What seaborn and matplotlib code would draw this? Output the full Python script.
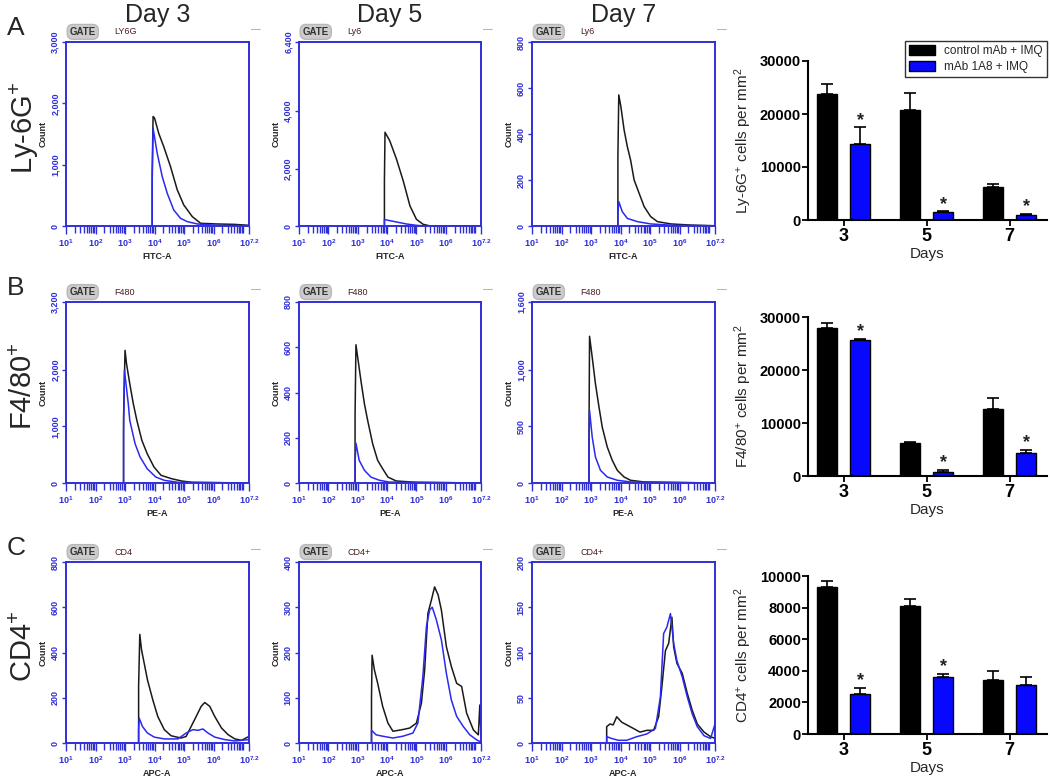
import numpy as np
import pandas as pd
import matplotlib.pyplot as plt
import seaborn as sns

# ---------------- flow histograms: x = log10 intensity, y = count ----------------
# row A  (Ly-6G, FITC-A)
ly6g_d3_ctrl_x = [3.92, 3.92, 3.95, 4.00, 4.14, 4.31, 4.54, 4.77, 4.99, 5.28, 5.56, 6.12, 6.69, 7.20]
ly6g_d3_ctrl_y = [0, 860, 1785, 1760, 1513, 1296, 969, 588, 343, 152, 44, 33, 27, 11]
ly6g_d3_trt_x = [3.92, 3.92, 3.95, 4.09, 4.26, 4.43, 4.65, 4.88, 5.11, 5.45, 6.12, 7.20]
ly6g_d3_trt_y = [0, 700, 1595, 1187, 806, 533, 261, 125, 71, 33, 11, 5]
ly6g_d5_ctrl_x = [3.91, 3.91, 3.93, 4.09, 4.32, 4.55, 4.78, 5.00, 5.23, 5.46, 7.20]
ly6g_d5_ctrl_y = [0, 1600, 3260, 2968, 2328, 1571, 698, 233, 58, 5, 0]
ly6g_d5_trt_x = [3.91, 3.91, 3.98, 4.32, 4.66, 5.00, 5.23, 7.20]
ly6g_d5_trt_y = [0, 230, 210, 140, 70, 23, 5, 0]
ly6g_d7_ctrl_x = [3.91, 3.91, 3.94, 4.01, 4.12, 4.23, 4.34, 4.46, 4.63, 4.80, 5.02, 5.25, 5.70, 6.39, 7.20]
ly6g_d7_ctrl_y = [0, 300, 570, 520, 418, 345, 287, 200, 142, 84, 41, 19, 9, 4, 1]
ly6g_d7_trt_x = [3.91, 3.91, 3.94, 4.06, 4.23, 4.57, 5.02, 5.80, 7.20]
ly6g_d7_trt_y = [0, 50, 106, 62, 33, 19, 9, 3, 1]

# row B  (F4/80, PE-A)
f480_d3_ctrl_x = [2.95, 2.95, 3.00, 3.05, 3.16, 3.28, 3.40, 3.57, 3.75, 3.98, 4.22, 4.57, 4.92, 5.27, 7.20]
f480_d3_ctrl_y = [0, 1150, 2345, 2110, 1756, 1402, 1108, 754, 519, 283, 136, 77, 35, 12, 0]
f480_d3_trt_x = [2.95, 2.95, 2.98, 3.11, 3.16, 3.34, 3.51, 3.75, 4.04, 4.33, 4.80, 7.20]
f480_d3_trt_y = [0, 900, 1992, 1402, 1108, 695, 460, 253, 106, 47, 12, 0]
f480_d5_ctrl_x = [2.91, 2.91, 2.94, 3.00, 3.11, 3.23, 3.34, 3.51, 3.68, 3.85, 4.03, 4.31, 5.00, 7.20]
f480_d5_ctrl_y = [0, 300, 611, 555, 452, 349, 276, 173, 100, 63, 26, 9, 3, 0]
f480_d5_trt_x = [2.91, 2.91, 2.94, 3.05, 3.23, 3.45, 3.74, 4.08, 7.20]
f480_d5_trt_y = [0, 90, 176, 100, 56, 26, 12, 4, 0]
f480_d7_ctrl_x = [2.93, 2.93, 2.95, 3.04, 3.15, 3.27, 3.38, 3.55, 3.72, 3.89, 4.12, 4.34, 4.80, 7.20]
f480_d7_ctrl_y = [0, 400, 1297, 1112, 876, 671, 494, 318, 200, 112, 53, 24, 9, 0]
f480_d7_trt_x = [2.93, 2.93, 2.95, 3.04, 3.15, 3.32, 3.55, 3.89, 4.34, 7.20]
f480_d7_trt_y = [0, 300, 641, 406, 229, 112, 53, 24, 9, 0]

# row C  (CD4, APC-A)
cd4_d3_ctrl_x = [3.46, 3.46, 3.50, 3.56, 3.65, 3.76, 3.94, 4.11, 4.33, 4.56, 4.90, 5.07, 5.24, 5.41,
                 5.58, 5.70, 5.87, 6.04, 6.27, 6.49, 6.72, 6.95, 7.20]
cd4_d3_ctrl_y = [0, 250, 480, 411, 352, 279, 191, 117, 59, 32, 22, 29, 73, 117,
                 162, 179, 162, 117, 66, 37, 18, 12, 29]
cd4_d3_trt_x = [3.46, 3.46, 3.48, 3.59, 3.76, 3.99, 4.33, 4.79, 5.07, 5.30, 5.47, 5.64, 5.81, 6.04,
                6.38, 6.72, 7.20]
cd4_d3_trt_y = [0, 60, 110, 73, 44, 26, 18, 18, 44, 59, 56, 62, 44, 26, 15, 9, 15]
cd4_d5_ctrl_x = [3.47, 3.47, 3.49, 3.57, 3.68, 3.85, 4.03, 4.20, 4.48, 4.77, 5.00, 5.17, 5.28, 5.39,
                 5.51, 5.62, 5.74, 5.85, 6.02, 6.19, 6.37, 6.54, 6.71, 6.94, 7.11, 7.16, 7.20]
cd4_d5_ctrl_y = [0, 100, 194, 161, 132, 81, 44, 26, 29, 33, 44, 88, 161, 286,
                 316, 345, 327, 294, 213, 169, 132, 125, 66, 29, 18, 84, 20]
cd4_d5_trt_x = [3.47, 3.47, 3.63, 3.85, 4.20, 4.54, 4.88, 5.05, 5.22, 5.34, 5.45, 5.54, 5.68, 5.85,
                6.02, 6.19, 6.37, 6.59, 6.82, 7.05, 7.20]
cd4_d5_trt_y = [0, 28, 18, 15, 11, 15, 22, 44, 147, 257, 294, 300, 272, 228,
                154, 95, 59, 37, 18, 7, 2]
cd4_d7_ctrl_x = [3.53, 3.53, 3.64, 3.75, 3.87, 4.04, 4.21, 4.44, 4.66, 4.89, 5.12, 5.29, 5.40, 5.52,
                 5.63, 5.74, 5.80, 5.91, 6.09, 6.26, 6.43, 6.60, 6.83, 7.05, 7.20]
cd4_d7_ctrl_y = [0, 18, 21, 20, 29, 23, 20, 16, 12, 14, 14, 29, 62, 102,
                 110, 139, 106, 88, 77, 55, 36, 21, 12, 7, 5]
cd4_d7_trt_x = [3.53, 3.53, 3.70, 3.92, 4.21, 4.55, 4.89, 5.18, 5.35, 5.46, 5.57, 5.69, 5.80, 5.91,
                6.09, 6.26, 6.43, 6.60, 6.83, 7.05, 7.20]
cd4_d7_trt_y = [0, 7, 5, 3, 3, 7, 10, 16, 51, 121, 128, 143, 110, 91,
                73, 51, 32, 18, 8, 5, 21]

hist_ymax = [[3000, 6400, 800], [3200, 800, 1600], [800, 400, 200]]
hist_yticks = [[[0, 1000, 2000, 3000], [0, 2000, 4000, 6400], [0, 200, 400, 600, 800]],
               [[0, 1000, 2000, 3200], [0, 200, 400, 600, 800], [0, 500, 1000, 1600]],
               [[0, 200, 400, 600, 800], [0, 100, 200, 300, 400], [0, 50, 100, 150, 200]]]
gate_names = [["LY6G", "Ly6", "Ly6"], ["F480", "F480", "F480"], ["CD4", "CD4+", "CD4+"]]
channel_names = ["FITC-A", "PE-A", "APC-A"]
day_titles = ["Day 3", "Day 5", "Day 7"]
row_letters = ["A", "B", "C"]
row_markers = ["Ly-6G$^{+}$", "F4/80$^{+}$", "CD4$^{+}$"]

# ---------------- bar charts (mean, SEM) ----------------
days = ["3", "5", "7"]
groups = ["control mAb + IMQ", "mAb 1A8 + IMQ"]
ly6g_ctrl = [23700, 20800, 6200]
ly6g_ctrl_err = [2000, 3200, 500]
ly6g_trt = [14400, 1450, 900]
ly6g_trt_err = [3100, 200, 200]
f480_ctrl = [27900, 6200, 12700]
f480_ctrl_err = [1000, 300, 2000]
f480_trt = [25700, 800, 4300]
f480_trt_err = [200, 400, 600]
cd4_ctrl = [9290, 8100, 3410]
cd4_ctrl_err = [420, 430, 590]
cd4_trt = [2550, 3620, 3110]
cd4_trt_err = [370, 170, 470]
ly6g_stars = [True, True, True]
f480_stars = [True, True, True]
cd4_stars = [True, True, False]

# ---------------- style ----------------
sns.set_theme(style="white")
plt.rcParams["font.family"] = ["Liberation Sans", "DejaVu Sans"]
plt.rcParams["mathtext.fontset"] = "custom"
plt.rcParams["mathtext.rm"] = "Liberation Sans"
plt.rcParams["mathtext.bf"] = "Liberation Sans:bold"
plt.rcParams["mathtext.default"] = "regular"
plt.rcParams["xtick.bottom"] = True
plt.rcParams["ytick.left"] = True

FLOW_BLUE = "#2f2fd8"
TRACE_BLUE = "#2a2af0"
BAR_BLUE = "#0808ff"

W, H = 1050, 780
fig = plt.figure(figsize=(10.5, 7.8), dpi=100)


def px_axes(left, top, right, bottom):
    return fig.add_axes([left / W, 1 - bottom / H, (right - left) / W, (bottom - top) / H])


# ---------------- histograms ----------------
hist_data = [
    [(ly6g_d3_ctrl_x, ly6g_d3_ctrl_y, ly6g_d3_trt_x, ly6g_d3_trt_y),
     (ly6g_d5_ctrl_x, ly6g_d5_ctrl_y, ly6g_d5_trt_x, ly6g_d5_trt_y),
     (ly6g_d7_ctrl_x, ly6g_d7_ctrl_y, ly6g_d7_trt_x, ly6g_d7_trt_y)],
    [(f480_d3_ctrl_x, f480_d3_ctrl_y, f480_d3_trt_x, f480_d3_trt_y),
     (f480_d5_ctrl_x, f480_d5_ctrl_y, f480_d5_trt_x, f480_d5_trt_y),
     (f480_d7_ctrl_x, f480_d7_ctrl_y, f480_d7_trt_x, f480_d7_trt_y)],
    [(cd4_d3_ctrl_x, cd4_d3_ctrl_y, cd4_d3_trt_x, cd4_d3_trt_y),
     (cd4_d5_ctrl_x, cd4_d5_ctrl_y, cd4_d5_trt_x, cd4_d5_trt_y),
     (cd4_d7_ctrl_x, cd4_d7_ctrl_y, cd4_d7_trt_x, cd4_d7_trt_y)],
]
col_lr = [(66, 249), (299, 481), (532, 715)]
row_tb = [(42, 226), (302, 483), (562, 743)]

major_exp = [1, 2, 3, 4, 5, 6, 7.2]
major_lbl = [r"$\mathbf{10^{%s}}$" % e for e in ["1", "2", "3", "4", "5", "6", "7.2"]]
minor_pos = [k * 10.0 ** n for n in range(1, 8) for k in range(1, 10) if k * 10.0 ** n <= 10 ** 7.2]

for r in range(3):
    for c in range(3):
        ax = px_axes(col_lr[c][0], row_tb[r][0], col_lr[c][1], row_tb[r][1])
        cx, cy, tx, ty = hist_data[r][c]
        sns.lineplot(x=10 ** np.array(cx), y=cy, ax=ax, color="#1a1a1a", lw=1.1,
                     sort=False, estimator=None)
        sns.lineplot(x=10 ** np.array(tx), y=ty, ax=ax, color=TRACE_BLUE, lw=1.1,
                     sort=False, estimator=None)
        ax.set_xscale("log")
        ax.set_xlim(10, 10 ** 7.2)
        ax.set_ylim(0, hist_ymax[r][c])
        ax.set_xticks([10 ** e for e in major_exp])
        ax.set_xticklabels(major_lbl)
        ax.set_xticks(minor_pos, minor=True)
        ax.xaxis.set_minor_formatter(plt.NullFormatter())
        ax.set_yticks(hist_yticks[r][c])
        ax.set_yticklabels([f"{v:,}" for v in hist_yticks[r][c]], rotation=90, va="center",
                           fontweight="bold")
        ax.tick_params(axis="both", which="both", direction="out", colors=FLOW_BLUE,
                       labelsize=6.5, width=1.0, bottom=True, left=True)
        ax.tick_params(axis="x", which="major", length=6, pad=2)
        ax.tick_params(axis="x", which="minor", length=5)
        ax.tick_params(axis="y", length=3, pad=1.5)
        for s in ax.spines.values():
            s.set_color(FLOW_BLUE)
            s.set_linewidth(1.4)
        ax.set_xlabel(channel_names[r], fontsize=6.5, fontweight="bold", labelpad=2)
        ax.set_ylabel("Count", fontsize=6.5, fontweight="bold", labelpad=2)
        # gate tag above the plot
        ax.text(0.02, 1.055, "GATE", transform=ax.transAxes, fontsize=7, fontweight="bold",
                color="#333333", va="center", ha="left",
                bbox=dict(boxstyle="round,pad=0.25,rounding_size=0.6", fc="#cccccc", ec="#b8b8b8"))
        ax.text(0.265, 1.055, gate_names[r][c], transform=ax.transAxes, fontsize=6.5,
                color="#4a1c1c", va="center", ha="left")
        ax.text(1.04, 1.07, "\u2014", transform=ax.transAxes, fontsize=7, color="#9a9a9a",
                va="center", ha="center")

# ---------------- bar charts ----------------
bar_sets = [
    (ly6g_ctrl, ly6g_trt, ly6g_ctrl_err, ly6g_trt_err, ly6g_stars, 30000, [0, 10000, 20000, 30000],
     "Ly-6G$^{+}$ cells per mm$^{2}$", (61, 220)),
    (f480_ctrl, f480_trt, f480_ctrl_err, f480_trt_err, f480_stars, 30000, [0, 10000, 20000, 30000],
     "F4/80$^{+}$ cells per mm$^{2}$", (317, 476)),
    (cd4_ctrl, cd4_trt, cd4_ctrl_err, cd4_trt_err, cd4_stars, 10000, [0, 2000, 4000, 6000, 8000, 10000],
     "CD4$^{+}$ cells per mm$^{2}$", (576, 734)),
]

for i, (ctrl, trt, ctrl_err, trt_err, stars, ymax, yt, ylab, (top, bot)) in enumerate(bar_sets):
    ax = px_axes(808, top, 1047, bot)
    df = pd.DataFrame({
        "Days": days * 2,
        "group": [groups[0]] * 3 + [groups[1]] * 3,
        "value": ctrl + trt,
    })
    sns.barplot(data=df, x="Days", y="value", hue="group", hue_order=groups,
                palette={groups[0]: "black", groups[1]: BAR_BLUE}, order=days,
                errorbar=None, width=0.8, gap=0.4, edgecolor="black", linewidth=1.0,
                saturation=1, ax=ax, legend=(i == 0))
    for cont, errs in zip(ax.containers, [ctrl_err, trt_err]):
        xs = [p.get_x() + p.get_width() / 2 for p in cont]
        ys = [p.get_height() for p in cont]
        ax.errorbar(xs, ys, yerr=[np.zeros(3), errs], fmt="none", ecolor="black",
                    elinewidth=1.2, capsize=4, capthick=1.2, zorder=1)
    for p, e, s in zip(ax.containers[1], trt_err, stars):
        if s:
            ax.annotate("*", (p.get_x() + p.get_width() / 2, p.get_height() + e),
                        xytext=(0, -1), textcoords="offset points", ha="center", va="bottom",
                        fontsize=13, fontweight="bold", color="#222222")
    ax.set_xlim(-0.43, 2.45)
    ax.set_ylim(0, ymax)
    ax.set_yticks(yt)
    ax.set_yticklabels([str(v) for v in yt], fontweight="bold", fontsize=10.5)
    ax.set_xticklabels(days, fontweight="bold", fontsize=13)
    ax.tick_params(axis="both", direction="out", length=4, width=1.3, colors="black", pad=2,
                   bottom=True, left=True)
    ax.tick_params(axis="y", pad=1)
    sns.despine(ax=ax)
    for s in ["left", "bottom"]:
        ax.spines[s].set_linewidth(1.5)
        ax.spines[s].set_color("black")
    ax.set_xlabel("Days", fontsize=11, labelpad=1)
    ax.set_ylabel(ylab, fontsize=11)
    ax.yaxis.set_label_coords(-0.225, 0.5)
    if i == 0:
        leg = ax.legend(loc="upper right", bbox_to_anchor=(1.0, 1.125), borderaxespad=0,
                        fontsize=8.5, frameon=True, fancybox=False, edgecolor="black",
                        handlelength=2.2, handleheight=0.9, borderpad=0.35, labelspacing=0.3)
        leg.get_frame().set_linewidth(1.0)

# ---------------- panel letters, row and column labels ----------------
for c, t in enumerate(day_titles):
    fig.text(((col_lr[c][0] + col_lr[c][1]) / 2 + 0) / W, 1 - 15 / H, t, fontsize=18,
             ha="center", va="center")
for r, (ltr, mk) in enumerate(zip(row_letters, row_markers)):
    fig.text(16 / W, 1 - (row_tb[r][0] - 14) / H, ltr, fontsize=19, ha="center", va="center")
    fig.text(24 / W, 1 - ((row_tb[r][0] + row_tb[r][1]) / 2 - 6) / H, mk, fontsize=21,
             rotation=90, ha="center", va="center")

fig.savefig("out.png", dpi=100, facecolor="white")
